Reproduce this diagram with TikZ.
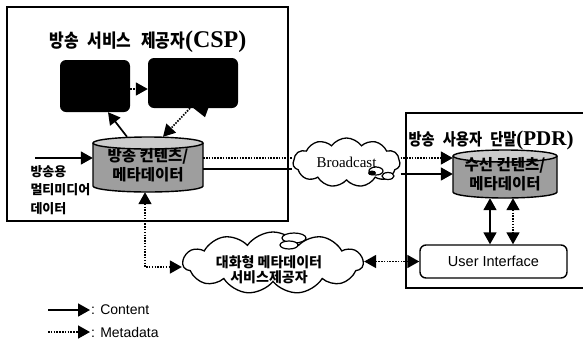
\documentclass[tikz,border=0pt]{standalone}
\usepackage{fontspec}
\setmainfont{Liberation Serif}
\setsansfont{Liberation Sans}
\newfontfamily\kr{Noto Sans CJK KR}
\newfontfamily\krc{Noto Sans CJK KR}[FakeStretch=0.86]
\usetikzlibrary{arrows.meta,shapes.symbols}
\definecolor{cylbody}{gray}{0.62}
\definecolor{cyltop}{gray}{0.80}
\newcommand\drawcyl[5]{%
 \fill[cylbody] ({#1-#2},#3) -- ({#1-#2},#4) arc[start angle=180,end angle=360,x radius=#2pt,y radius=#5pt] -- ({#1+#2},#3) arc[start angle=0,end angle=-180,x radius=#2pt,y radius=#5pt] -- cycle;
 \draw[line width=1.4pt] ({#1-#2},#3) -- ({#1-#2},#4) arc[start angle=180,end angle=360,x radius=#2pt,y radius=#5pt] -- ({#1+#2},#3);
 \filldraw[line width=1.4pt,fill=cyltop] (#1,#3) ellipse[x radius=#2pt,y radius=#5pt];
}
\begin{document}
\begin{tikzpicture}[x=1pt,y=-1pt,
  frame/.style={draw,line width=1.5pt,inner sep=0pt},
  blackbox/.style={fill=black,rounded corners=6pt,inner sep=0pt},
  cyltext/.style={inner sep=0pt,align=center,font=\kr\bfseries\fontsize{15.5}{19}\selectfont},
  cloudbox/.style={cloud,cloud puffs=11,cloud puff arc=110,cloud ignores aspect,draw,line width=1.3pt,fill=white,inner sep=0pt},
  tip/.style={-{Triangle[length=12pt,width=13pt]}},
  tipboth/.style={{Triangle[length=12pt,width=13pt]}-{Triangle[length=12pt,width=13pt]}},
  solidln/.style={line width=1.7pt},
  dotln/.style={line width=1.7pt,dash pattern=on 1.5pt off 1.3pt},
]
\useasboundingbox (0,0) rectangle (583,341);

% frames
\node[frame,minimum width=281pt,minimum height=214pt] (csp) at (147.5,114) {};
\node[frame,minimum width=179pt,minimum height=175pt] (pdr) at (495.5,200.5) {};

% titles
\node[font=\bfseries\fontsize{24}{24}\selectfont] (csptitle) at (148,42) {{\krc\fontsize{18.5}{18.5}\selectfont 방송\hspace{5pt} 서비스\hspace{6pt} 제공자}(CSP)};
\node[anchor=west,font=\bfseries\fontsize{21}{21}\selectfont] (pdrtitle) at (405,140) {{\krc\fontsize{16.5}{16.5}\selectfont 방송\hspace{5pt} 사용자\hspace{5pt} 단말}(PDR)};

% black boxes
\node[blackbox,minimum width=70pt,minimum height=52pt] (b1) at (95,86) {};
\node[blackbox,minimum width=90pt,minimum height=50pt] (b2) at (193,83) {};
\fill ([xshift=-2pt,yshift=2pt]b2.south) -- ([xshift=12pt,yshift=-9pt]b2.south) -- ([xshift=16pt,yshift=2pt]b2.south) -- cycle;

% cylinders
\drawcyl{148}{55}{143}{186}{6}
\node[cyltext,minimum width=110pt,minimum height=55pt] (c1) at (148,164.5) {\\[-4pt]방송 컨텐츠/\\메타데이터};
\drawcyl{505}{52}{156}{192}{6}
\node[cyltext,minimum width=104pt,minimum height=48pt] (c2) at (505,174) {\\[-6pt]수신 컨텐츠/\\메타데이터};

% clouds
\node[cloudbox,minimum width=107pt,minimum height=49pt,font=\fontsize{15}{15}\selectfont] (bc) at (346.5,162.5) {Broadcast\hspace{12pt}};
\filldraw[line width=1.2pt,fill=white] (376,171) ellipse[x radius=7pt,y radius=4pt];
\filldraw[line width=1.2pt,fill=white] (388,176) ellipse[x radius=6pt,y radius=3.5pt];
\fill (372,173) ellipse[x radius=4pt,y radius=2.5pt];
\node[cloudbox,minimum width=180pt,minimum height=62pt] (cl2) at (273,263) {};
\filldraw[line width=1.2pt,fill=white] (294,238) ellipse[x radius=12pt,y radius=5pt];
\filldraw[line width=1.2pt,fill=white] (289,245) ellipse[x radius=9pt,y radius=4pt];
\node[align=center,inner sep=0pt,font=\kr\bfseries\fontsize{14}{15}\selectfont] (cl2t) at (269,270) {대화형 메타데이터\\서비스제공자};

% user interface
\node[draw,line width=1.4pt,rounded corners=6pt,minimum width=147pt,minimum height=33pt,font=\sffamily\fontsize{14.5}{14.5}\selectfont] (ui) at (493.5,261.5) {User Interface};

% input label
\coordinate (in) at (35,158);
\node[anchor=north west,align=left,font=\kr\bfseries\fontsize{13}{18.5}\selectfont] (inlabel) at (27,162) {방송용\\멀티미디어\\데이터};

% connectors
\draw[solidln,tip] (in) -- (in -| c1.west);
\draw[solidln,tip] ([xshift=-21pt]c1.north) -- ([xshift=13pt]b1.south);
\draw[dotln,tip] ([xshift=-3pt]b2.south) -- ([xshift=15pt]c1.north);
\draw[dotln,tip] ([yshift=-3pt]b1.east) -- ([yshift=-3pt]b1.east -| b2.west);
\draw[dotln] ([yshift=6.5pt]c1.east) -- ([yshift=6.5pt]c1.east -| bc.west);
\draw[solidln] ([yshift=-4.5pt]c1.east) -- ([yshift=-4.5pt]c1.east -| bc.west);
\draw[dotln,tip] ([yshift=16pt]c2.west -| bc.east) -- ([yshift=16pt]c2.west);
\draw[solidln,tip] (c2.west -| bc.east) -- (c2.west);
\draw[solidln,tipboth] ([xshift=-15pt]c2.south) -- ([xshift=-15pt]c2.south |- ui.north);
\draw[dotln,tipboth] ([xshift=8pt]c2.south) -- ([xshift=8pt]c2.south |- ui.north);
\draw[dotln,tipboth] (ui.west) -- (ui.west -| cl2.east);
\draw[dotln,tipboth] ([xshift=-3pt]c1.south) |- ([yshift=-4pt]cl2.west);

% legend
\coordinate (l1a) at (48,310); \coordinate (l1b) at (90,310);
\coordinate (l2a) at (48,332); \coordinate (l2b) at (90,332);
\draw[solidln,tip] (l1a) -- (l1b);
\draw[dotln,tip] (l2a) -- (l2b);
\node[anchor=west,inner sep=1pt,font=\sffamily\fontsize{14}{14}\selectfont] (lt1) at (l1b) {: Content};
\node[anchor=west,inner sep=1pt,font=\sffamily\fontsize{14}{14}\selectfont] (lt2) at (l2b) {: Metadata};
\end{tikzpicture}
\end{document}
